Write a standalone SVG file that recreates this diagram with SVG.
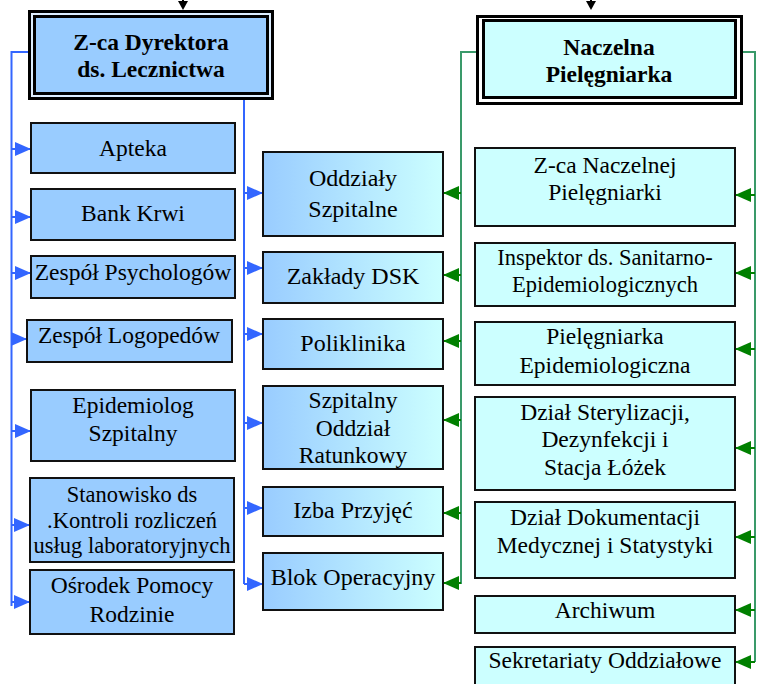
<svg xmlns="http://www.w3.org/2000/svg" width="757" height="684" viewBox="0 0 757 684">
<style>
text{font-family:"Liberation Serif","Times New Roman",serif;font-size:23.5px;fill:#000;text-anchor:middle}
.hd{font-weight:bold}
.sm{font-size:22.5px}
.md{font-size:24px}
.bl{fill:#99CCFF;stroke:#111;stroke-width:2}
.gr{fill:url(#grad);stroke:#111;stroke-width:2}
.cy{fill:#CCFFFF;stroke:#111;stroke-width:2}
.lb{fill:none;stroke:#3366FF;stroke-width:2}
.lg{fill:none;stroke:#3A9A6A;stroke-width:2}
.ab{stroke:#3366FF;stroke-width:2;marker-end:url(#mb)}
.ag{stroke:#008000;stroke-width:2;marker-end:url(#mg)}
</style>
<defs>
<linearGradient id="grad" x1="0" y1="0" x2="1" y2="0">
<stop offset="0" stop-color="#99CCFF"/>
<stop offset="1" stop-color="#CCFFFF"/>
</linearGradient>
<marker id="mb" markerUnits="userSpaceOnUse" markerWidth="16" markerHeight="14" refX="16" refY="7" orient="auto">
<path d="M0,0 L16,7 L0,14 z" fill="#3366FF"/>
</marker>
<marker id="mg" markerUnits="userSpaceOnUse" markerWidth="16" markerHeight="14" refX="16" refY="7" orient="auto">
<path d="M0,0 L16,7 L0,14 z" fill="#008000"/>
</marker>
</defs>

<g id="connectors">
<path d="M183,0 V4" stroke="#000" stroke-width="2"/>
<path d="M178,1 L188,1 L183,10 z" fill="#000"/>
<path d="M591,0 V4" stroke="#000" stroke-width="2"/>
<path d="M586,1 L596,1 L591,10 z" fill="#000"/>
<path class="lb" d="M28,52 H11.5 V606"/>
<path class="lb" d="M244,100 V584"/>
<path class="lg" d="M476,52 H461 V584"/>
<path class="lg" d="M743,52 H755 V662"/>
<line class="ab" x1="11.5" y1="149" x2="31" y2="149"/>
<line class="ab" x1="11.5" y1="217" x2="31" y2="217"/>
<line class="ab" x1="11.5" y1="273" x2="31" y2="273"/>
<line class="ab" x1="11.5" y1="339" x2="27" y2="339"/>
<line class="ab" x1="11.5" y1="431" x2="31" y2="431"/>
<line class="ab" x1="11.5" y1="525" x2="30" y2="525"/>
<line class="ab" x1="11.5" y1="602" x2="30" y2="602"/>
<line class="ab" x1="244" y1="193" x2="263" y2="193"/>
<line class="ab" x1="244" y1="268" x2="263" y2="268"/>
<line class="ab" x1="244" y1="334" x2="263" y2="334"/>
<line class="ab" x1="244" y1="423" x2="263" y2="423"/>
<line class="ab" x1="244" y1="508" x2="263" y2="508"/>
<line class="ab" x1="244" y1="584" x2="263" y2="584"/>
<line class="ag" x1="461" y1="193" x2="443" y2="193"/>
<line class="ag" x1="461" y1="275" x2="443" y2="275"/>
<line class="ag" x1="461" y1="341" x2="443" y2="341"/>
<line class="ag" x1="461" y1="420" x2="443" y2="420"/>
<line class="ag" x1="461" y1="513" x2="443" y2="513"/>
<line class="ag" x1="461" y1="583" x2="443" y2="583"/>
<line class="ag" x1="755" y1="195" x2="735" y2="195"/>
<line class="ag" x1="755" y1="273" x2="735" y2="273"/>
<line class="ag" x1="755" y1="349" x2="735" y2="349"/>
<line class="ag" x1="755" y1="448" x2="735" y2="448"/>
<line class="ag" x1="755" y1="537" x2="735" y2="537"/>
<line class="ag" x1="755" y1="610" x2="735" y2="610"/>
<line class="ag" x1="755" y1="662" x2="735" y2="662"/>
</g>

<g id="dyrektor">
<rect x="29.5" y="11.5" width="243" height="87" fill="#DDEEFF" stroke="#000" stroke-width="3"/>
<rect x="34.5" y="16.5" width="233" height="77" fill="#99CCFF" stroke="#000" stroke-width="3"/>
<text class="hd" x="151" y="50">Z-ca Dyrektora</text>
<text class="hd" x="151" y="77">ds. Lecznictwa</text>
</g>

<g id="naczelna">
<rect x="477.5" y="16.5" width="264" height="87" fill="#fff" stroke="#000" stroke-width="3"/>
<rect x="483.5" y="20.5" width="252" height="77" fill="#CCFFFF" stroke="#000" stroke-width="3"/>
<text class="hd" x="609" y="55">Naczelna</text>
<text class="hd" x="609" y="82">Pielęgniarka</text>
</g>

<g id="apteka"><rect class="bl" x="31" y="123" width="204" height="50"/><text x="133" y="156">Apteka</text></g>
<g id="bank-krwi"><rect class="bl" x="31" y="189" width="204" height="51"/><text x="133" y="221">Bank Krwi</text></g>
<g id="psycholodzy"><rect class="bl" x="31" y="256" width="204" height="42"/><text x="133" y="280">Zespół Psychologów</text></g>
<g id="logopedzi"><rect class="bl" x="27" y="320" width="205" height="42"/><text x="129" y="343">Zespół Logopedów</text></g>
<g id="epidemiolog"><rect class="bl" x="31" y="390" width="204" height="71"/><text x="133" y="413">Epidemiolog</text><text x="133" y="441">Szpitalny</text></g>
<g id="stanowisko"><rect class="bl" x="30" y="478" width="204" height="84"/><text class="sm" x="132" y="502">Stanowisko ds</text><text class="sm" x="132" y="528">.Kontroli rozliczeń</text><text class="sm" x="132" y="553">usług laboratoryjnych</text></g>
<g id="osrodek"><rect class="bl" x="30" y="570" width="204" height="64"/><text x="132" y="593">Ośrodek Pomocy</text><text x="132" y="622">Rodzinie</text></g>

<g id="oddzialy"><rect class="gr" x="263" y="152" width="180" height="84"/><text class="md" x="353" y="186">Oddziały</text><text class="md" x="353" y="217">Szpitalne</text></g>
<g id="zaklady"><rect class="gr" x="263" y="252" width="180" height="51"/><text class="md" x="353" y="284">Zakłady DSK</text></g>
<g id="poliklinika"><rect class="gr" x="263" y="319" width="180" height="50"/><text class="md" x="353" y="351">Poliklinika</text></g>
<g id="sor"><rect class="gr" x="263" y="386" width="180" height="83"/><text x="353" y="408">Szpitalny</text><text x="353" y="436">Oddział</text><text x="353" y="463">Ratunkowy</text></g>
<g id="izba"><rect class="gr" x="263" y="487" width="180" height="49"/><text class="md" x="353" y="518">Izba Przyjęć</text></g>
<g id="blok"><rect class="gr" x="263" y="553" width="180" height="57"/><text class="md" x="353" y="585">Blok Operacyjny</text></g>

<g id="zca-naczelnej"><rect class="cy" x="475" y="148" width="260" height="78"/><text x="605" y="173">Z-ca Naczelnej</text><text x="605" y="200">Pielęgniarki</text></g>
<g id="inspektor"><rect class="cy" x="475" y="243" width="260" height="63"/><text class="sm" x="605" y="265">Inspektor ds. Sanitarno-</text><text class="sm" x="605" y="292">Epidemiologicznych</text></g>
<g id="pielegniarka-epid"><rect class="cy" x="475" y="322" width="260" height="63"/><text x="605" y="344">Pielęgniarka</text><text x="605" y="373">Epidemiologiczna</text></g>
<g id="sterylizacja"><rect class="cy" x="475" y="397" width="260" height="93"/><text x="605" y="420">Dział Sterylizacji,</text><text x="605" y="447">Dezynfekcji i</text><text x="605" y="475">Stacja Łóżek</text></g>
<g id="dokumentacja"><rect class="cy" x="475" y="502" width="260" height="76"/><text x="605" y="525">Dział Dokumentacji</text><text x="605" y="553">Medycznej i Statystyki</text></g>
<g id="archiwum"><rect class="cy" x="475" y="596" width="260" height="37"/><text x="605" y="618">Archiwum</text></g>
<g id="sekretariaty"><rect class="cy" x="475" y="647" width="260" height="45"/><text x="605" y="668">Sekretariaty Oddziałowe</text></g>
</svg>
